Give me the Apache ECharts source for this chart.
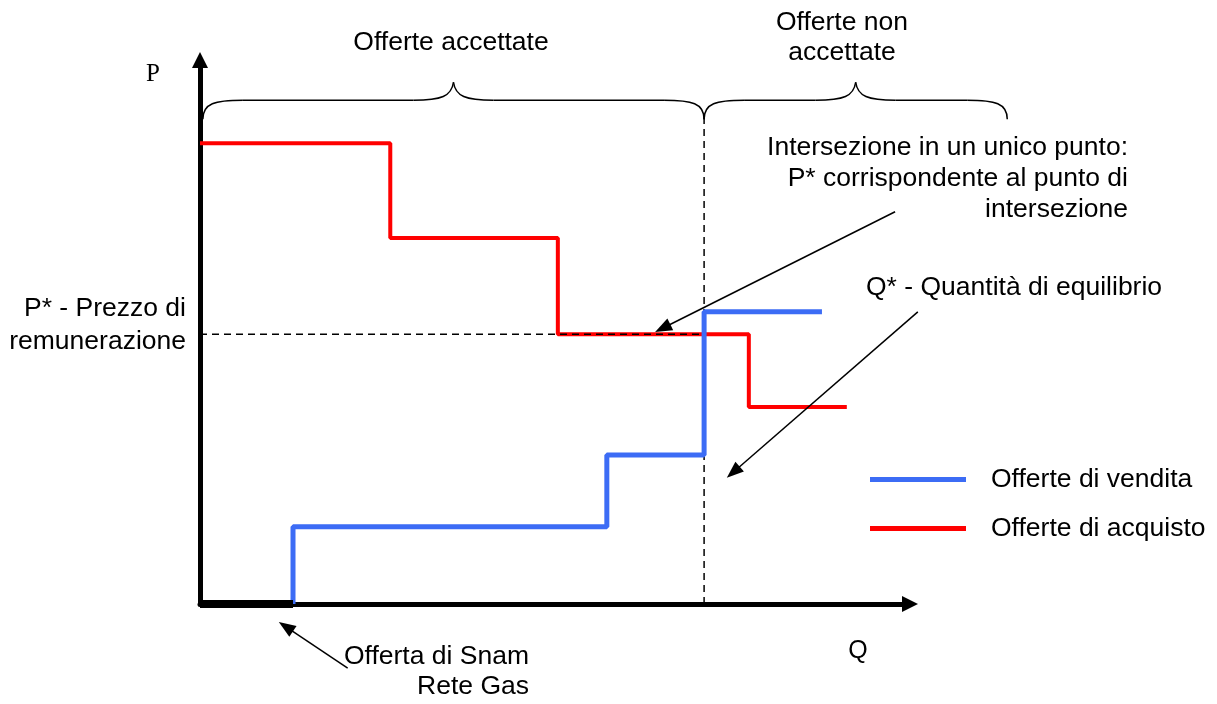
<!DOCTYPE html>
<html>
<head>
<meta charset="utf-8">
<script src="https://cdn.jsdelivr.net/npm/echarts@6/dist/echarts.min.js"></script>
<style>
html,body{margin:0;padding:0;background:#fff;}
#chart{width:1217px;height:704px;}
</style>
</head>
<body>
<div id="chart"></div>
<script>
// ---- Data (quantity Q on x, price P on y, arbitrary units 0..100) ----
const redQ = [0, 26.8, 50.4, 77.3, 91.1];      // breakpoints of purchase offers
const redP = [84.7, 67.3, 49.6, 36.2];         // price of each purchase step
const blueQ = [13.1, 57.3, 71.0, 87.6];        // breakpoints of sale offers
const blueP = [14.2, 27.4, 53.7];              // price of each sale step
const snamQ = 13.1;                            // Snam Rete Gas offer (price 0)
const pStar = 49.6;                            // equilibrium price
const qStar = 71.0;                            // equilibrium quantity
const qStarTop = 90.4;                         // top of the Q* guide
const braceFrom = [0.4, 71.0];
const braceTo = [71.0, 113.7];
const braceLevel = 92.6;
// annotation arrows: [fromQ, fromP, toQ, toP]
const arrowFromQ = [97.9, 101.1, 20.8];
const arrowFromP = [72.1, 53.7, -11.8];
const arrowToQ = [64.1, 74.2, 11.1];
const arrowToP = [50.0, 23.2, -3.3];

const seriesNames = ['Offerte di vendita', 'Offerte di acquisto'];

function steps(q, p, startP) {
  const pts = [];
  if (startP !== undefined) pts.push([q[0], startP]);
  for (let i = 0; i < p.length; i++) {
    pts.push([q[i], p[i]]);
    pts.push([q[i + 1], p[i]]);
  }
  return pts;
}
const redData = steps(redQ, redP);
const blueData = steps(blueQ, blueP, 0);
const braceData = braceFrom.map((f, i) => [f, braceTo[i], braceLevel]);
const arrowData = arrowFromQ.map((q, i) => [q, arrowFromP[i], arrowToQ[i], arrowToP[i]]);

const FONT = "'Liberation Sans', Arial, sans-serif";
const SERIF = "'Liberation Serif', 'Times New Roman', serif";
const BLUE = '#3c6cf5';
const RED = '#ff0000';

const chart = echarts.init(document.getElementById('chart'));

function axisCommon() {
  return {
    type: 'value', min: 0, max: 100,
    axisLine: { show: true, onZero: false, symbol: ['none', 'triangle'], symbolSize: [16, 16],
      lineStyle: { color: '#000', width: 5 } },
    axisTick: { show: false }, axisLabel: { show: false }, splitLine: { show: false }
  };
}

function braceItem(params, api) {
  const a = api.coord([api.value(0), api.value(2)]);
  const b = api.coord([api.value(1), api.value(2)]);
  const x1 = a[0], x2 = b[0], yb = a[1], xm = (x1 + x2) / 2;
  const h = 19, k = 18, c = 40;
  const st = { stroke: '#000', fill: 'none', lineWidth: 1.5 };
  return {
    type: 'group',
    children: [
      { type: 'bezierCurve', shape: { x1: x1, y1: yb + h, cpx1: x1, cpy1: yb + 3, cpx2: x1 + 12, cpy2: yb, x2: x1 + c, y2: yb }, style: st },
      { type: 'line', shape: { x1: x1 + c, y1: yb, x2: xm - c, y2: yb }, style: st },
      { type: 'bezierCurve', shape: { x1: xm - c, y1: yb, cpx1: xm - 12, cpy1: yb, cpx2: xm - 2, cpy2: yb - 4, x2: xm, y2: yb - k }, style: st },
      { type: 'bezierCurve', shape: { x1: xm, y1: yb - k, cpx1: xm + 2, cpy1: yb - 4, cpx2: xm + 12, cpy2: yb, x2: xm + c, y2: yb }, style: st },
      { type: 'line', shape: { x1: xm + c, y1: yb, x2: x2 - c, y2: yb }, style: st },
      { type: 'bezierCurve', shape: { x1: x2 - c, y1: yb, cpx1: x2 - 12, cpy1: yb, cpx2: x2, cpy2: yb + 3, x2: x2, y2: yb + h }, style: st }
    ]
  };
}

function arrowItem(params, api) {
  const s = api.coord([api.value(0), api.value(1)]);
  const t = api.coord([api.value(2), api.value(3)]);
  const dx = t[0] - s[0], dy = t[1] - s[1];
  const len = Math.sqrt(dx * dx + dy * dy);
  const ux = dx / len, uy = dy / len;
  const L = 17, W = 6.5;
  const bx = t[0] - ux * L, by = t[1] - uy * L;
  return {
    type: 'group',
    children: [
      { type: 'line', shape: { x1: s[0], y1: s[1], x2: bx + ux * 2, y2: by + uy * 2 }, style: { stroke: '#000', lineWidth: 1.5 } },
      { type: 'polygon', shape: { points: [[t[0], t[1]], [bx - uy * W, by + ux * W], [bx + uy * W, by - ux * W]] }, style: { fill: '#000' } }
    ]
  };
}

function txt(text, x, y, align, size, lineHeight, family) {
  return {
    type: 'text', x: x, y: y, silent: true,
    style: { text: text, fontSize: size || 26, fontFamily: family || FONT, fill: '#000',
      align: align || 'center', verticalAlign: 'middle', lineHeight: lineHeight || 31 }
  };
}

const option = {
  animation: false,
  backgroundColor: '#fff',
  grid: { left: 200, top: 60, width: 710, height: 544 },
  xAxis: axisCommon(),
  yAxis: axisCommon(),
  legend: {
    data: seriesNames,
    orient: 'vertical', left: 865, top: 461,
    icon: 'rect', itemWidth: 96, itemHeight: 5, itemGap: 22,
    selectedMode: false,
    textStyle: { fontSize: 26.5, fontFamily: FONT, color: '#000', padding: [0, 0, 0, 20] }
  },
  series: [
    { name: seriesNames[1], type: 'line', data: redData, symbol: 'none', z: 3,
      itemStyle: { color: RED }, lineStyle: { color: RED, width: 4 } },
    { type: 'line', data: [[0, pStar], [qStar, pStar]], symbol: 'none', z: 4,
      lineStyle: { color: '#000', width: 1.5, type: [7, 5] } },
    { type: 'line', data: [[qStar, 0], [qStar, qStarTop]], symbol: 'none', z: 4,
      lineStyle: { color: '#000', width: 1.5, type: [7, 5] } },
    { name: seriesNames[0], type: 'line', data: blueData, symbol: 'none', z: 5,
      itemStyle: { color: BLUE }, lineStyle: { color: BLUE, width: 5 } },
    { type: 'line', data: [[0, 0], [snamQ, 0]], symbol: 'none', z: 6,
      lineStyle: { color: '#000', width: 8, cap: 'butt' } },
    { type: 'custom', data: braceData, renderItem: braceItem, clip: false, z: 6, silent: true },
    { type: 'custom', data: arrowData, renderItem: arrowItem, clip: false, z: 7, silent: true }
  ],
  graphic: [
    txt('P', 153, 74, 'center', 25, 25, SERIF),
    txt('Q', 858, 651, 'center', 25),
    txt('Offerte accettate', 451, 43, 'center', 26.5),
    txt('Offerte non\naccettate', 842, 38, 'center', 26.5, 30),
    txt('Intersezione in un unico punto:\nP* corrispondente al punto di\nintersezione', 1128, 179, 'right', 26.5),
    txt('Q* - Quantità di equilibrio', 866, 288, 'left', 26.5),
    txt('P* - Prezzo di\nremunerazione', 186, 325, 'right', 26.5, 33),
    txt('Offerta di Snam\nRete Gas', 529, 672, 'right', 26.5, 30)
  ]
};
chart.setOption(option);
</script>
</body>
</html>
